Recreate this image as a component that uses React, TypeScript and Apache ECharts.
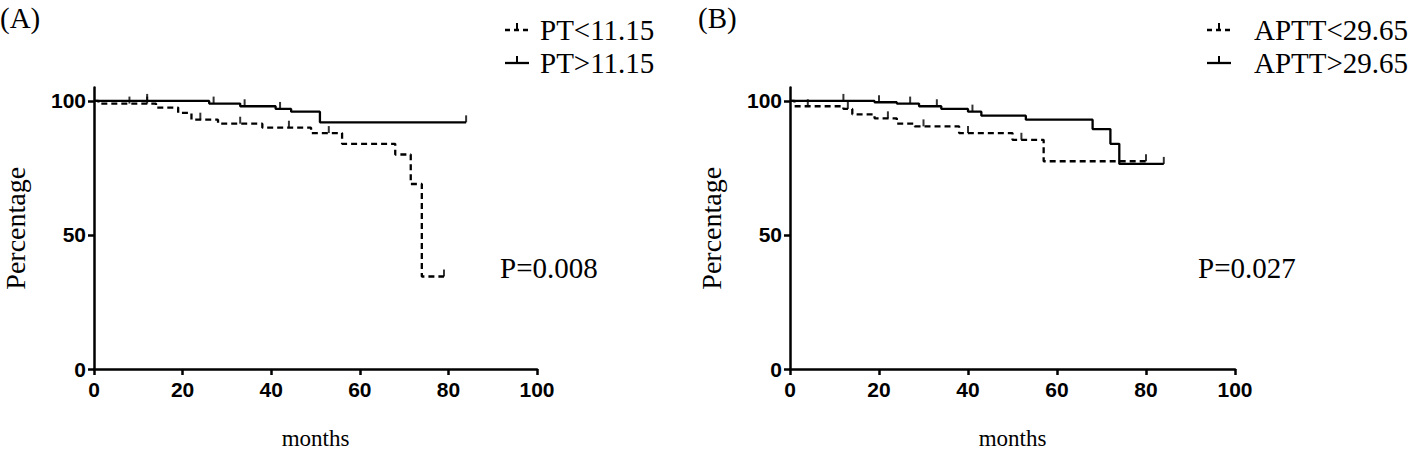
import React, { useEffect, useRef } from "react";
import * as echarts from "echarts";

// Panel A
const ptLow: number[][] = [[0,100],[1,99],[14,97.5],[19,95.5],[22,93],[28,91.5],[38,90],[49,88],[56,84],[68,80],[71.5,69],[74,34.5],[79,34.5]];
const ptLowCensor: number[][] = [[8,99],[12,99],[24,93],[33,91.5],[44,90],[53,88],[79,34.5]];
const ptHigh: number[][] = [[0,100],[26,99],[33,98],[41,97],[44.5,96],[51,92],[84,92]];
const ptHighCensor: number[][] = [[12,100],[27,99],[34,98],[42,97],[84,92]];

// Panel B
const apttLow: number[][] = [[0,100],[1,98],[12,97],[14,95],[19,93.5],[24,91.5],[28,90.5],[38,88],[50,85.5],[57,77.5],[80,77.5]];
const apttLowCensor: number[][] = [[4,98],[13,97],[22,93.5],[30,90.5],[40,88],[52,85.5],[80,77.5]];
const apttHigh: number[][] = [[0,100],[19,99.5],[24,99],[29,98],[34,97],[40,96],[43,94.5],[53,93],[68,89.5],[72,84],[74,76.5],[84,76.5]];
const apttHighCensor: number[][] = [[12,100],[20,99.5],[27,99],[33,98],[41,96],[84,76.5]];

const yTicks = [0, 50, 100];
const panelLetters = ["(A)", "(B)"];
const legendLabels = [["PT<11.15", "PT>11.15"], ["APTT<29.65", "APTT>29.65"]];
const pValues = ["P=0.008", "P=0.027"];

const SERIF = "'Liberation Serif', 'Times New Roman', serif";
const SANS = "'Liberation Sans', Arial, sans-serif";

export default function App() {
  const ref = useRef<HTMLDivElement>(null);
  useEffect(() => {
    if (!ref.current) return;
    const chart = echarts.init(ref.current, null, { renderer: "svg" });
    const lefts = [92, 790];
    const grids = lefts.map((l) => ({ left: l, top: 87.5, width: 445, height: 283.5 }));
    const xAxes = lefts.map((_, i) => ({
      type: "value", gridIndex: i, min: 0, max: 100, interval: 20,
      name: "months", nameLocation: "middle", nameGap: 58,
      nameTextStyle: { fontFamily: SERIF, fontSize: 23, color: "#000" },
      axisLine: { onZero: false, lineStyle: { color: "#000", width: 2.5 } },
      axisTick: { length: 6, lineStyle: { color: "#000", width: 2.5 } },
      axisLabel: { fontFamily: SANS, fontWeight: "bold", fontSize: 21, color: "#000", margin: 10 },
      splitLine: { show: false },
    }));
    const yAxes = lefts.map((_, i) => ({
      type: "value", gridIndex: i, min: 0, max: 105,
      name: "Percentage", nameLocation: "middle", nameGap: 65,
      nameTextStyle: { fontFamily: SERIF, fontSize: 28, color: "#000" },
      axisLine: { onZero: false, lineStyle: { color: "#000", width: 2.5 } },
      axisTick: { length: 6, customValues: yTicks, lineStyle: { color: "#000", width: 2.5 } },
      axisLabel: { customValues: yTicks, fontFamily: SANS, fontWeight: "bold", fontSize: 21, color: "#000", margin: 8 },
      splitLine: { show: false },
    }));
    const lineS = (data: number[][], idx: number, dashed: boolean) => ({
      type: "line", xAxisIndex: idx, yAxisIndex: idx, data, step: "end", showSymbol: false,
      lineStyle: { color: "#000", width: 2.3, type: dashed ? [6, 4] : "solid" }, silent: true,
    });
    const censS = (data: number[][], idx: number) => ({
      type: "scatter", xAxisIndex: idx, yAxisIndex: idx, data, symbol: "rect",
      symbolSize: [2, 7], symbolOffset: [0, -3.5], itemStyle: { color: "#000" }, silent: true,
    });
    const graphic: any[] = [];
    const legX = [505, 1207];
    const legTextX = [540, 1254];
    const pX = [500, 1198];
    [0, 1].forEach((i) => {
      graphic.push({ type: "text", x: i === 0 ? 0 : 698, y: 18, style: { text: panelLetters[i], font: `29px ${SERIF}`, fill: "#000", verticalAlign: "middle" } });
      [0, 1].forEach((j) => {
        const y = j === 0 ? 30 : 63;
        graphic.push({ type: "line", shape: { x1: legX[i], y1: y, x2: legX[i] + 24, y2: y }, style: { stroke: "#000", lineWidth: 2.3, lineDash: j === 0 ? [5, 4] : null } });
        graphic.push({ type: "line", shape: { x1: legX[i] + 12, y1: y, x2: legX[i] + 12, y2: y - 7 }, style: { stroke: "#000", lineWidth: 2 } });
        graphic.push({ type: "text", x: legTextX[i], y, style: { text: legendLabels[i][j], font: `29px ${SERIF}`, fill: "#000", verticalAlign: "middle" } });
      });
      graphic.push({ type: "text", x: pX[i], y: 268, style: { text: pValues[i], font: `29px ${SERIF}`, fill: "#000", verticalAlign: "middle" } });
    });
    chart.setOption({
      animation: false,
      backgroundColor: "#fff",
      grid: grids,
      xAxis: xAxes,
      yAxis: yAxes,
      series: [
        lineS(ptLow, 0, true), censS(ptLowCensor, 0),
        lineS(ptHigh, 0, false), censS(ptHighCensor, 0),
        lineS(apttLow, 1, true), censS(apttLowCensor, 1),
        lineS(apttHigh, 1, false), censS(apttHighCensor, 1),
      ],
      graphic,
    } as any);
    return () => chart.dispose();
  }, []);
  return <div ref={ref} style={{ position: "fixed", left: 0, top: 0, width: 1418, height: 455 }} />;
}
